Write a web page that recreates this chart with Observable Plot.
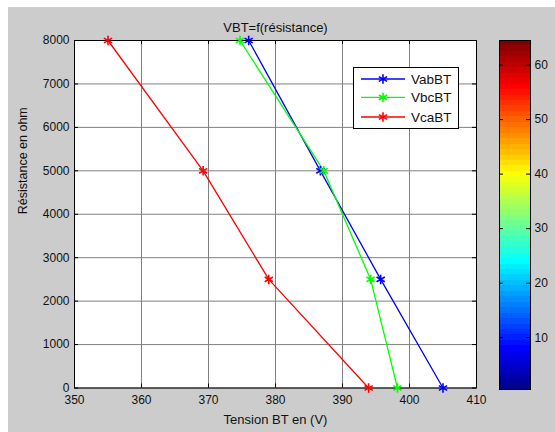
<!DOCTYPE html>
<html><head><meta charset="utf-8">
<script src="https://cdn.jsdelivr.net/npm/d3@7"></script>
<script src="https://cdn.jsdelivr.net/npm/@observablehq/plot@0.6"></script>
<style>
body{margin:0;background:#fff;font-family:"Liberation Sans",Arial,sans-serif;}
#fig{position:relative;width:555px;height:432px;overflow:hidden;}
#bg{position:absolute;left:8px;top:7px;width:547px;height:425px;background:#cccccc;}
#main{position:absolute;left:0;top:0;}
#cbar{position:absolute;left:480px;top:0;}
#legend{position:absolute;left:352.7px;top:67.3px;width:106.6px;height:61.7px;box-sizing:border-box;border:1px solid #000;background:#fff;}
</style></head><body>
<div id="fig"><div id="bg"></div><div id="main"></div><div id="cbar"></div><div id="legend"></div></div>
<script>
// ---- data ----
const resistance = [8000, 5000, 2500, 0];
const vabBT = [376, 386.7, 395.7, 405];
const vbcBT = [374.7, 387.2, 394.2, 398.2];
const vcaBT = [355, 369.2, 379, 393.9];
const seriesNames = ["VabBT", "VbcBT", "VcaBT"];
const seriesColors = ["#0000ff", "#00ff00", "#ff0000"];
const xTicks = [350, 360, 370, 380, 390, 400, 410];
const yTicks = [0, 1000, 2000, 3000, 4000, 5000, 6000, 7000, 8000];
const cbarTicks = [10, 20, 30, 40, 50, 60];
const cbarDomain = [0.5, 64.5];
const title = "VBT=f(résistance)";
const xLabel = "Tension BT en (V)";
const yLabel = "Résistance en ohm";

const font = '"Liberation Sans", Arial, sans-serif';
const seriesValues = [vabBT, vbcBT, vcaBT];
const rows = seriesNames.flatMap((s, i) => resistance.map((r, j) => ({s, r, v: seriesValues[i][j]})));

// ---- main chart ----
const W = 490, H = 432, mL = 74, mR = 14, mT = 40, mB = 44.5;
const xDom = [350, 410], yDom = [0, 8000];
const tickPx = 4;
const ty = (yDom[1] - yDom[0]) * tickPx / (H - mT - mB);
const tx = (xDom[1] - xDom[0]) * tickPx / (W - mL - mR);

const main = Plot.plot({
  width: W, height: H,
  marginLeft: mL, marginRight: mR, marginTop: mT, marginBottom: mB,
  style: {background: "transparent", fontFamily: font, fontSize: "12px", color: "#111"},
  x: {domain: xDom},
  y: {domain: yDom},
  color: {domain: seriesNames, range: seriesColors},
  marks: [
    Plot.frame({fill: "white"}),
    Plot.gridX(xTicks, {stroke: "#808080", strokeOpacity: 1, strokeWidth: 1}),
    Plot.gridY(yTicks, {stroke: "#808080", strokeOpacity: 1, strokeWidth: 1}),
    Plot.ruleX(xTicks, {x: d => d, y1: yDom[0], y2: yDom[0] + ty, stroke: "#000"}),
    Plot.ruleX(xTicks, {x: d => d, y1: yDom[1], y2: yDom[1] - ty, stroke: "#000"}),
    Plot.ruleY(yTicks, {y: d => d, x1: xDom[0], x2: xDom[0] + tx, stroke: "#000"}),
    Plot.ruleY(yTicks, {y: d => d, x1: xDom[1], x2: xDom[1] - tx, stroke: "#000"}),
    Plot.axisX({ticks: xTicks, tickSize: 0, tickPadding: 7, tickFormat: d3.format("d"), label: null, fontSize: 12}),
    Plot.axisY({ticks: yTicks, tickSize: 0, tickPadding: 5, tickFormat: d3.format("d"), label: null, fontSize: 12}),
    Plot.text([xLabel], {frameAnchor: "bottom", lineAnchor: "middle", dy: 31.5, fontSize: 13, fill: "#111"}),
    Plot.text([yLabel], {frameAnchor: "left", rotate: -90, dx: -52, fontSize: 12.5, fill: "#111"}),
    Plot.text([title], {frameAnchor: "top", lineAnchor: "middle", dy: -13, fontSize: 13, fill: "#111"}),
    Plot.frame({stroke: "#000", strokeWidth: 1}),
    Plot.line(rows, {x: "v", y: "r", z: "s", stroke: "s", strokeWidth: 1.3}),
    Plot.dot(rows, {x: "v", y: "r", stroke: "s", symbol: "asterisk", r: 4.5, strokeWidth: 1.6})
  ]
});
document.getElementById("main").append(main);

// ---- colorbar (jet colormap) ----
function jet(t) {
  const c = v => Math.max(0, Math.min(1, v));
  return d3.rgb(255 * c(1.5 - Math.abs(4 * t - 3)), 255 * c(1.5 - Math.abs(4 * t - 2)), 255 * c(1.5 - Math.abs(4 * t - 1))).formatHex();
}
const nColors = 64;
const cells = d3.range(1, nColors + 1);
const cbar = Plot.plot({
  width: 75, height: 432,
  marginLeft: 19, marginRight: 25, marginTop: 40, marginBottom: 43,
  style: {background: "transparent", fontFamily: font, fontSize: "12px", color: "#111"},
  x: {domain: [0, 1], axis: null},
  y: {domain: cbarDomain},
  color: {type: "identity"},
  marks: [
    Plot.rect(cells, {x1: 0, x2: 1, y1: d => d - 0.5, y2: d => d + 0.5, fill: d => jet(d / nColors), shapeRendering: "crispEdges"}),
    Plot.ruleY(cbarTicks, {y: d => d, x1: 0, x2: 0.13, stroke: "#000"}),
    Plot.ruleY(cbarTicks, {y: d => d, x1: 0.87, x2: 1, stroke: "#000"}),
    Plot.axisY({anchor: "right", ticks: cbarTicks, tickSize: 0, tickPadding: 4, label: null, fontSize: 12}),
    Plot.frame({stroke: "#000"})
  ]
});
document.getElementById("cbar").append(cbar);

// ---- legend ----
const legend = document.getElementById("legend");
const ns = "http://www.w3.org/2000/svg";
const svg = document.createElementNS(ns, "svg");
svg.setAttribute("width", 105); svg.setAttribute("height", 60);
svg.style.position = "absolute"; svg.style.left = "0"; svg.style.top = "0";
const star = d3.symbol(d3.symbolAsterisk, Math.PI * 4.5 * 4.5)();
const rowY = [11, 29.4, 49];
seriesNames.forEach((name, i) => {
  const g = document.createElementNS(ns, "g");
  g.setAttribute("transform", `translate(0,${rowY[i]})`);
  g.innerHTML = `<line x1="7" x2="51" y1="0" y2="0" stroke="${seriesColors[i]}" stroke-width="1.3"/>` +
    `<path d="${star}" transform="translate(29,0)" fill="none" stroke="${seriesColors[i]}" stroke-width="1.6"/>` +
    `<text x="57" y="0" dy="0.35em" font-family='${font}' font-size="13.5" fill="#111">${name}</text>`;
  svg.append(g);
});
legend.append(svg);
</script>
</body></html>
